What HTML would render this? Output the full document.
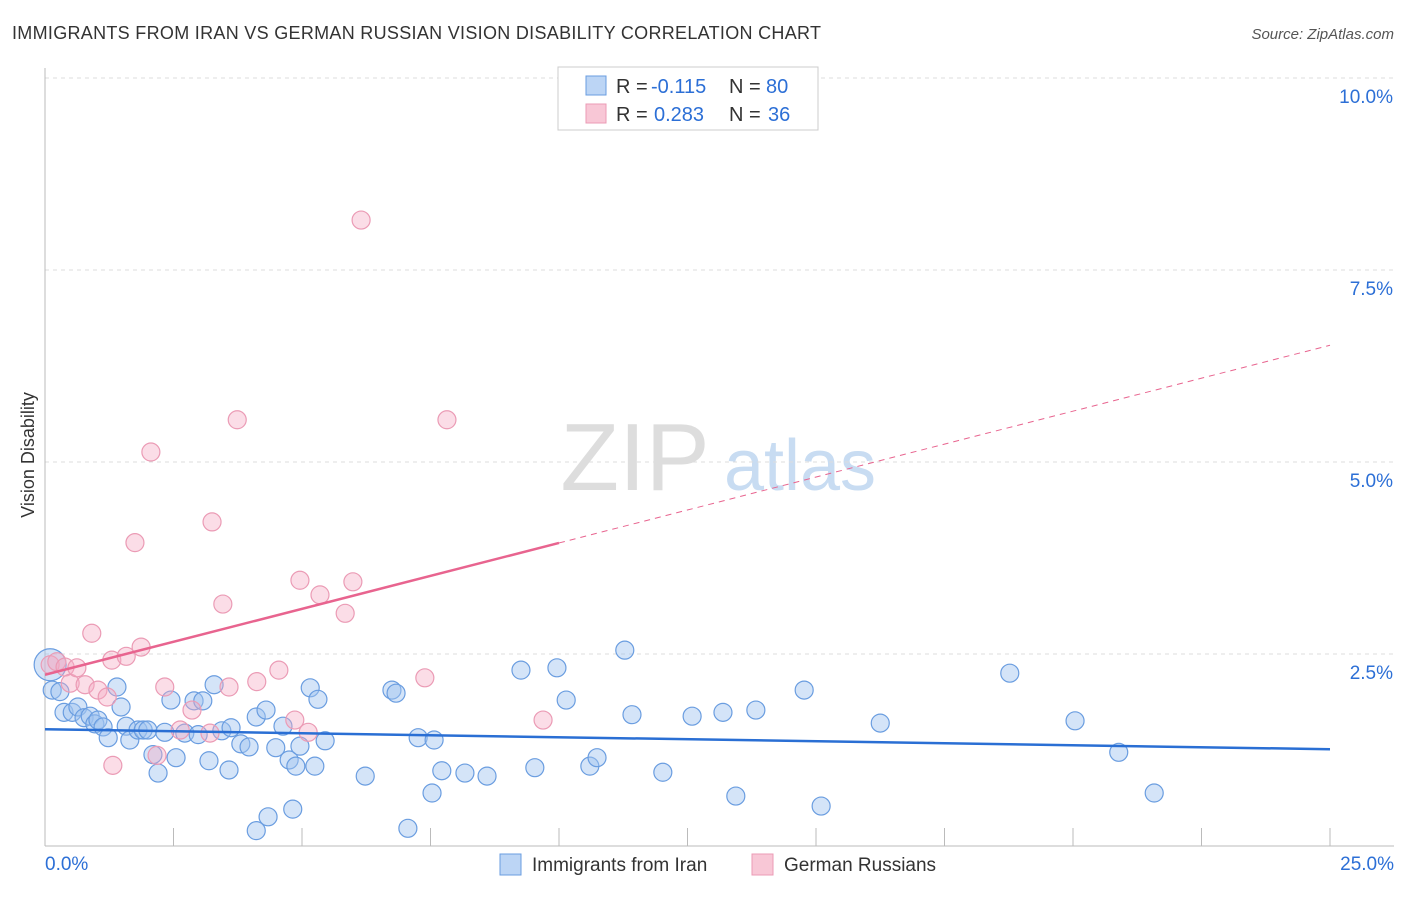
<!DOCTYPE html>
<html><head><meta charset="utf-8"><style>
body{margin:0;background:#fff;font-family:"Liberation Sans",sans-serif;}
svg text{font-family:"Liberation Sans",sans-serif;}
</style></head><body>
<svg id="c" width="1406" height="892">
<text x="12" y="39" font-size="18" fill="#333" textLength="809">IMMIGRANTS FROM IRAN VS GERMAN RUSSIAN VISION DISABILITY CORRELATION CHART</text>
<text x="1394" y="39" font-size="15" fill="#555" font-style="italic" text-anchor="end">Source: ZipAtlas.com</text>
<text x="34" y="455" font-size="18" fill="#333" transform="rotate(-90 34 455)" text-anchor="middle">Vision Disability</text>
<g><text x="635" y="490" font-size="96" fill="#ddd" font-family="Liberation Serif" text-anchor="middle">ZIP</text><text x="800" y="490" font-size="72" fill="#c8dcf2" text-anchor="middle">atlas</text></g>
<g id="grid"></g><g id="axes"></g><g id="marks"></g><g id="lines"></g>
<g>
<rect x="558" y="67" width="260" height="63" fill="#fff" stroke="#ccc"/>
<rect x="586" y="76" width="20" height="19" fill="#bcd5f5" stroke="#6a9de0"/>
<rect x="586" y="104" width="20" height="19" fill="#f8c7d6" stroke="#eb9bb5"/>
<text x="616" y="93" font-size="20" fill="#333">R =</text>
<text x="651" y="93" font-size="20" fill="#2c6fd6">-0.115</text>
<text x="729" y="93" font-size="20" fill="#333">N =</text>
<text x="766" y="93" font-size="20" fill="#2c6fd6">80</text>
<text x="616" y="121" font-size="20" fill="#333">R =</text>
<text x="654" y="121" font-size="20" fill="#2c6fd6">0.283</text>
<text x="729" y="121" font-size="20" fill="#333">N =</text>
<text x="768" y="121" font-size="20" fill="#2c6fd6">36</text>
</g>
<g>
<rect x="500" y="854" width="21" height="21" fill="#bcd5f5" stroke="#6a9de0"/>
<text x="532" y="871" font-size="19" fill="#333">Immigrants from Iran</text>
<rect x="752" y="854" width="21" height="21" fill="#f8c7d6" stroke="#eb9bb5"/>
<text x="784" y="871" font-size="19" fill="#333">German Russians</text>
</g>
</svg>
<script>
const blueX=[0.10,0.14,0.29,0.37,0.53,0.64,0.76,0.88,0.97,1.03,1.13,1.23,1.40,1.48,1.58,1.65,1.81,1.91,2.00,2.10,2.20,2.33,2.45,2.55,2.72,2.90,2.98,3.07,3.19,3.29,3.44,3.58,3.62,3.81,3.97,4.11,4.11,4.30,4.34,4.49,4.63,4.75,4.82,4.88,4.96,5.16,5.25,5.31,5.45,6.23,6.75,6.83,7.06,7.26,7.53,7.57,7.72,8.17,8.60,9.26,9.53,9.96,10.14,10.60,10.74,11.28,11.42,12.02,12.59,13.19,13.44,13.83,14.77,15.10,16.25,18.77,20.04,20.89,21.58];
const blueY=[2.36,2.03,2.01,1.74,1.74,1.81,1.67,1.69,1.59,1.64,1.55,1.41,2.07,1.81,1.56,1.38,1.51,1.51,1.51,1.19,0.95,1.48,1.90,1.15,1.47,1.89,1.45,1.89,1.11,2.10,1.50,0.99,1.54,1.33,1.29,1.68,0.20,1.77,0.38,1.28,1.56,1.12,0.48,1.04,1.30,2.06,1.04,1.91,1.37,0.91,2.03,1.99,0.23,1.41,0.69,1.38,0.98,0.95,0.91,2.29,1.02,2.32,1.90,1.04,1.15,2.55,1.71,0.96,1.69,1.74,0.65,1.77,2.03,0.52,1.60,2.25,1.63,1.22,0.69];
const pinkX=[0.10,0.23,0.39,0.49,0.62,0.78,0.91,1.03,1.21,1.32,1.30,1.58,1.75,1.87,2.06,2.18,2.33,2.63,2.86,3.25,3.46,3.21,3.58,3.74,4.12,4.55,4.86,4.96,5.12,5.35,5.84,5.99,6.15,7.39,7.82,9.69];
const pinkY=[2.36,2.40,2.33,2.12,2.32,2.10,2.77,2.03,1.94,1.05,2.42,2.47,3.95,2.59,5.13,1.18,2.07,1.51,1.77,4.22,3.15,1.47,2.07,5.55,2.14,2.29,1.64,3.46,1.48,3.27,3.03,3.44,8.15,2.19,5.55,1.64];
const blueTrend=[1.52,1.26];
const pinkTrend=[2.23,6.52];
const yTicks=[2.5,5.0,7.5,10.0];
const xTickLabels=["0.0%","25.0%"];
const NS="http://www.w3.org/2000/svg";
const X=v=>45+v*51.4, Y=v=>846-v*76.8;
function mk(t,a,p){const e=document.createElementNS(NS,t);for(const k in a)e.setAttribute(k,a[k]);document.getElementById(p).appendChild(e);return e;}
yTicks.forEach(t=>{
 const g=mk('line',{x1:45,x2:1394,y1:Y(t),y2:Y(t),stroke:'#ddd','stroke-dasharray':'4,4'},'grid');
 
 
 const l=mk('text',{x:1393,y:Y(t)+25,'font-size':19,fill:'#2c6fd6','text-anchor':'end'},'axes');
 l.textContent=t.toFixed(1)+'%';
 
 
});
const ax=mk('line',{x1:45,x2:1394,y1:846,y2:846,stroke:'#bbb'},'axes');


const ay=mk('line',{x1:45,x2:45,y1:68,y2:846,stroke:'#bbb'},'axes');


for(let i=1;i<=10;i++){const t=mk('line',{x1:X(i*2.5),x2:X(i*2.5),y1:828,y2:846,stroke:'#bbb'},'axes');
 
 }
const xl0=mk('text',{x:45,y:870,'font-size':19,fill:'#2c6fd6'},'axes');xl0.textContent=xTickLabels[0];


const xl1=mk('text',{x:1394,y:870,'font-size':19,fill:'#2c6fd6','text-anchor':'end'},'axes');xl1.textContent=xTickLabels[1];


blueX.forEach((v,i)=>{const c=mk('circle',{cx:X(v),cy:Y(blueY[i]),r:i==0?16:9,fill:'rgba(160,196,240,0.45)',stroke:'#6a9de0','stroke-width':1.2},'marks');
 
 });
pinkX.forEach((v,i)=>{const c=mk('circle',{cx:X(v),cy:Y(pinkY[i]),r:9,fill:'rgba(245,170,195,0.4)',stroke:'#eb9bb5','stroke-width':1.2},'marks');
 
 });
const bt=mk('line',{x1:X(0),y1:Y(blueTrend[0]),x2:X(25),y2:Y(blueTrend[1]),stroke:'#2a6fd4','stroke-width':2.5},'lines');


const pv=x=>pinkTrend[0]+(pinkTrend[1]-pinkTrend[0])*x/25;
const ps=mk('line',{x1:X(0),y1:Y(pv(0)),x2:X(10),y2:Y(pv(10)),stroke:'#e8648f','stroke-width':2.5},'lines');


const pd=mk('line',{x1:X(10),y1:Y(pv(10)),x2:X(25),y2:Y(pv(25)),stroke:'#e8648f','stroke-width':1,'stroke-dasharray':'6,5'},'lines');


</script>
</body></html>
